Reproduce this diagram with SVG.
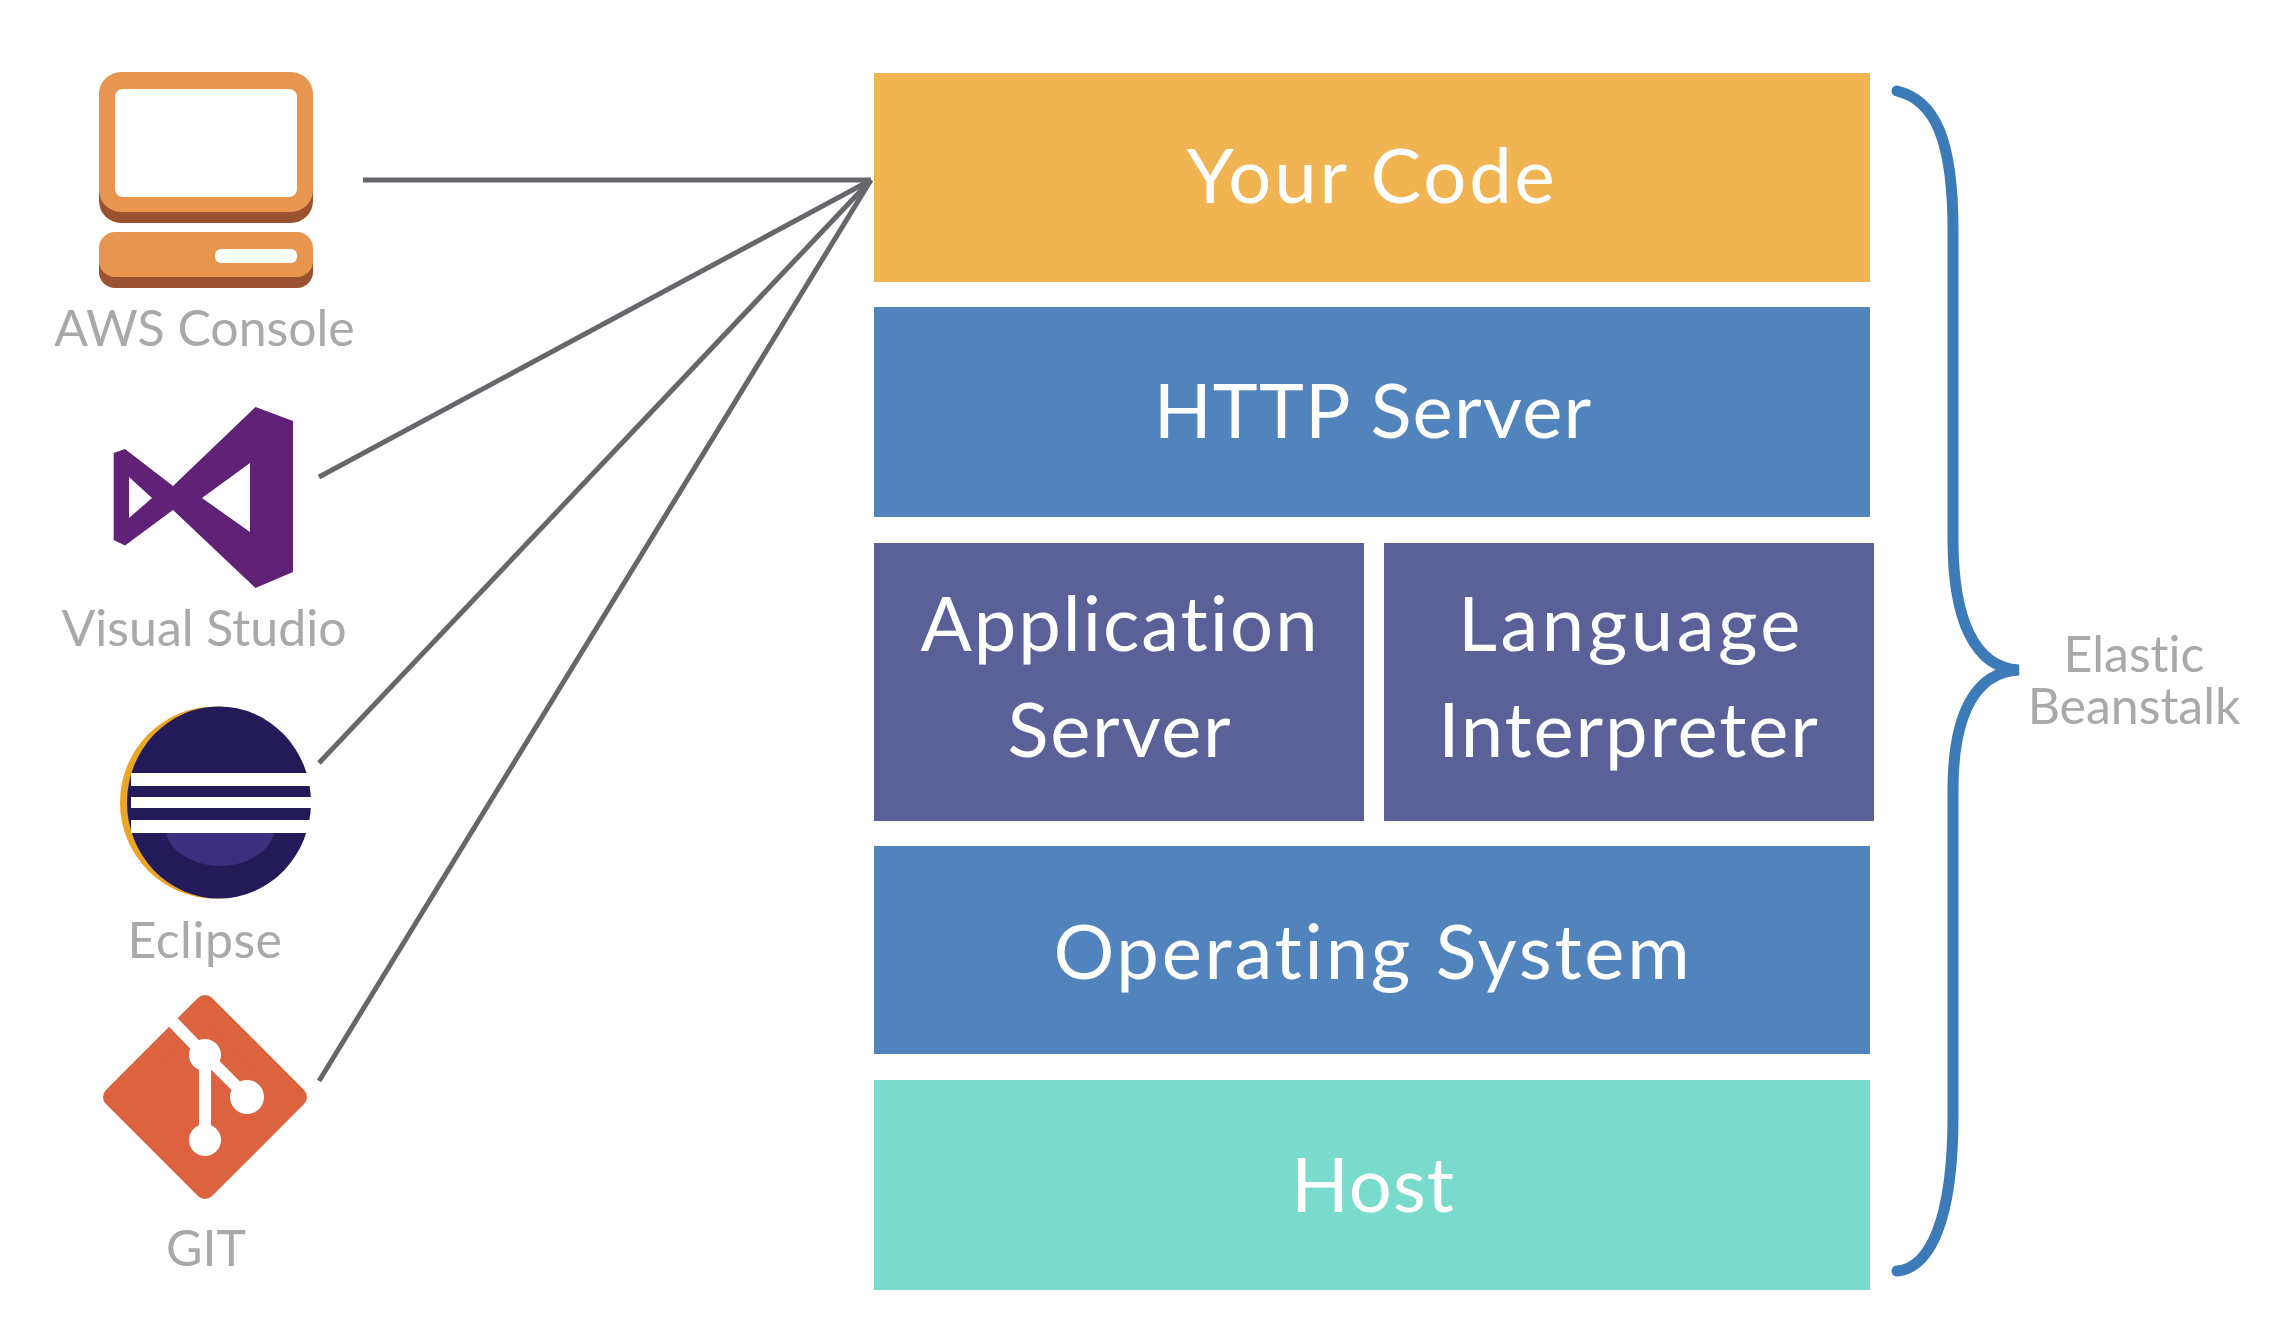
<svg xmlns="http://www.w3.org/2000/svg" width="2284" height="1340" viewBox="0 0 2284 1340">
<style>
text{font-family:Lato,"Open Sans","Liberation Sans",sans-serif;text-anchor:middle;font-variant-ligatures:none}
.big{font-size:76px;fill:#fff}
.small{font-size:50px;fill:#a9a9a9}
.conn{fill:none;stroke:#66676b;stroke-width:5}
.orange{fill:#f0b552}.blue{fill:#5183bd}.purple{fill:#5b6098}.teal{fill:#79dbcb}
</style>
<rect width="2284" height="1340" fill="#fff"/>
<g id="connectors">
<path class="conn" d="M363 180H871"/>
<path class="conn" d="M319 477L871 180"/>
<path class="conn" d="M319 763L871 180"/>
<path class="conn" d="M319 1081L871 180"/>
</g>
<g id="aws-console">
<rect x="99" y="82" width="214" height="141" rx="22" fill="#9a5230"/>
<rect x="99" y="72" width="214" height="140" rx="22" fill="#e8964f"/>
<rect x="115" y="89" width="182" height="108" rx="8" fill="#fff"/>
<rect x="99" y="243" width="214" height="45" rx="16" fill="#9a5230"/>
<rect x="99" y="232" width="214" height="45" rx="16" fill="#e8964f"/>
<rect x="215" y="249" width="82" height="14" rx="6" fill="#fff"/>
<text class="small" x="204.500" y="346">AWS Console</text>
</g>
<g id="visual-studio">
<path fill="#5f2277" fill-rule="evenodd" d="M255.500 407L293 421V572L255.500 588L173 510L125 545.500L113.700 540V453L125 449L173 486ZM250 463L202 498L250 532ZM129 477V518L152 498Z"/>
<text class="small" x="204" y="646">Visual Studio</text>
</g>
<g id="eclipse">
<ellipse cx="215" cy="802.500" rx="95" ry="96" fill="#eba628"/>
<ellipse cx="219" cy="802.500" rx="92" ry="96" fill="#231a5a"/>
<path fill="#3d2f7f" d="M166 833H274C270 852 245 866 220 866C195 866 170 852 166 833Z"/>
<rect x="131" y="773" width="185" height="13" fill="#fff"/>
<rect x="131" y="797" width="185" height="11" fill="#fff"/>
<rect x="131" y="820" width="185" height="13" fill="#fff"/>
<text class="small" x="205" y="958" letter-spacing="0.500">Eclipse</text>
</g>
<g id="git">
<path fill="#dc6240" stroke="#dc6240" stroke-width="20" stroke-linejoin="round" d="M205 1005L297 1097L205 1189L113 1097Z"/>
<path fill="none" stroke="#fff" stroke-width="12" d="M165 1014L205 1055V1140M205 1055L247 1097"/>
<circle cx="205" cy="1055" r="16" fill="#fff"/>
<circle cx="247" cy="1097" r="17" fill="#fff"/>
<circle cx="205" cy="1140" r="16" fill="#fff"/>
<text class="small" x="206" y="1266">GIT</text>
</g>
<g id="your-code">
<rect class="orange" x="874" y="73" width="996" height="209"/>
<text class="big" x="1372" y="203" letter-spacing="2.800">Your Code</text>
</g>
<g id="http-server">
<rect class="blue" x="874" y="307" width="996" height="210"/>
<text class="big" x="1373" y="438" letter-spacing="1.200">HTTP Server</text>
</g>
<g id="application-server">
<rect class="purple" x="874" y="543" width="490" height="278"/>
<text class="big" x="1120" y="651" letter-spacing="2">Application</text>
<text class="big" x="1120" y="757" letter-spacing="1.700">Server</text>
</g>
<g id="language-interpreter">
<rect class="purple" x="1384" y="543" width="490" height="278"/>
<text class="big" x="1631" y="651" letter-spacing="3.500">Language</text>
<text class="big" x="1629" y="757" letter-spacing="1.900">Interpreter</text>
</g>
<g id="operating-system">
<rect class="blue" x="874" y="846" width="996" height="208"/>
<text class="big" x="1373" y="979" letter-spacing="2.800">Operating System</text>
</g>
<g id="host">
<rect class="teal" x="874" y="1080" width="996" height="210"/>
<text class="big" x="1373" y="1212" letter-spacing="1">Host</text>
</g>
<g id="elastic-beanstalk">
<path fill="none" stroke="#3d7ab8" stroke-width="11" stroke-linecap="round" d="M1897 91C1935 100 1953 140 1953 230V540C1953 620 1975 668 2019 670C1975 672 1953 715 1953 790V1116C1953 1220 1930 1268 1897 1271"/>
<text class="small" x="2134" y="672">Elastic</text>
<text class="small" x="2134" y="724">Beanstalk</text>
</g>
</svg>
